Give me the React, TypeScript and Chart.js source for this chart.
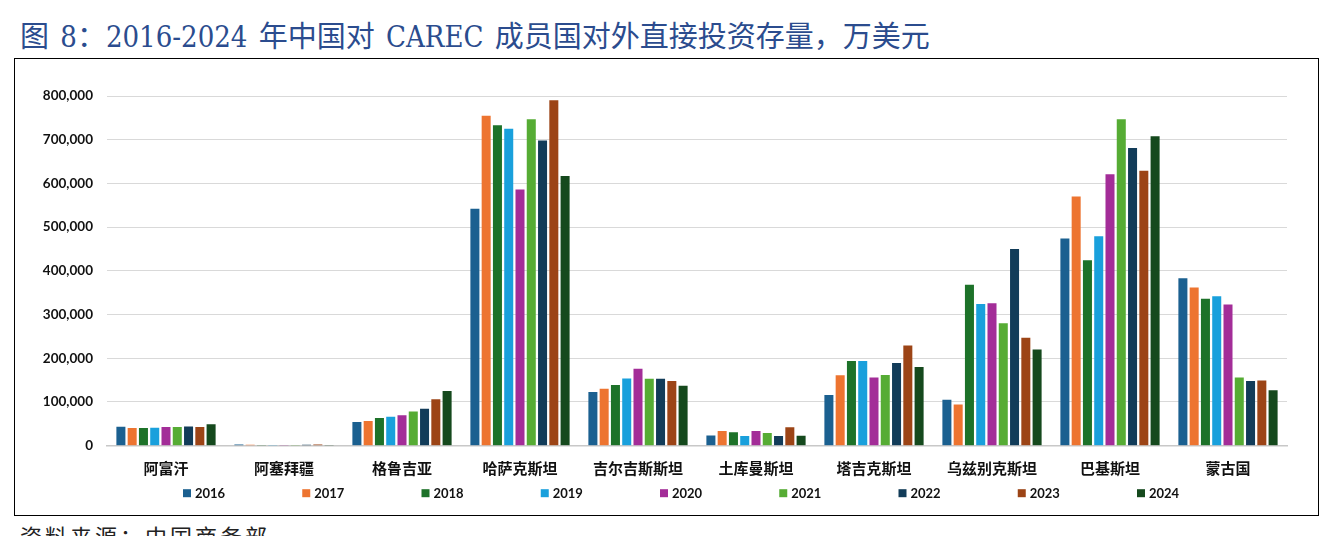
import React, { useEffect, useRef } from "react";
import { Chart, registerables } from "chart.js";

Chart.register(...registerables);

// CAREC member countries
const countries = [
  "阿富汗",
  "阿塞拜疆",
  "格鲁吉亚",
  "哈萨克斯坦",
  "吉尔吉斯斯坦",
  "土库曼斯坦",
  "塔吉克斯坦",
  "乌兹别克斯坦",
  "巴基斯坦",
  "蒙古国",
];

const years = ["2016", "2017", "2018", "2019", "2020", "2021", "2022", "2023", "2024"];

// Outward FDI stock by year, 10k USD, in the same order as `countries`
const v2016 = [43500, 2500, 54200, 542000, 123000, 23600, 116000, 105000, 474000, 383000];
const v2017 = [40400, 2300, 56500, 755000, 130000, 33600, 161000, 94500, 570000, 362000];
const v2018 = [40400, 400, 63300, 733000, 139000, 30500, 194000, 368000, 424000, 336000];
const v2019 = [41200, 300, 66400, 725000, 154000, 22100, 194000, 324000, 479000, 342000];
const v2020 = [42700, 1500, 69400, 586000, 176000, 33600, 156000, 326000, 621000, 323000];
const v2021 = [42700, 1600, 78500, 747000, 153000, 29000, 162000, 280000, 747000, 156000];
const v2022 = [44200, 2200, 84700, 698000, 153000, 22100, 189000, 450000, 681000, 148000];
const v2023 = [42700, 2600, 106000, 790000, 148000, 42000, 229000, 247000, 629000, 149000];
const v2024 = [48800, 500, 125000, 617000, 137000, 22900, 180000, 220000, 708000, 127000];

const seriesValues = [v2016, v2017, v2018, v2019, v2020, v2021, v2022, v2023, v2024];

const yearColors = [
  "#1B6090",
  "#ED7430",
  "#1D7229",
  "#19A0DC",
  "#A32D98",
  "#56AC34",
  "#123C59",
  "#9C4416",
  "#15491D",
];

// y-axis: 0 .. 800,000 in steps of 100,000
const yMin = 0;
const yMax = 800000;
const yStep = 100000;

const LEGEND_OFFSET = 76;
const LEGEND_STEP = 119.25;

const yearLegend = {
  id: "yearLegend",
  afterDraw(chart: any) {
    const { ctx, chartArea } = chart;
    const y = chartArea.bottom + 47.5;
    ctx.save();
    ctx.font = "bold 13px Lato";
    ctx.textBaseline = "middle";
    ctx.textAlign = "left";
    chart.data.datasets.forEach((ds: any, i: number) => {
      const x = chartArea.left + LEGEND_OFFSET + i * LEGEND_STEP;
      ctx.fillStyle = ds.backgroundColor;
      ctx.fillRect(x, y - 4, 8, 8);
      ctx.fillStyle = "#111111";
      ctx.fillText(ds.label, x + 12, y + 0.5);
    });
    ctx.restore();
  },
};

function FdiChart() {
  const canvasRef = useRef<HTMLCanvasElement | null>(null);

  useEffect(() => {
    if (!canvasRef.current) return;
    const chart = new Chart(canvasRef.current, {
      type: "bar",
      data: {
        labels: countries,
        datasets: years.map((year, i) => ({
          label: year,
          data: seriesValues[i],
          backgroundColor: yearColors[i],
          borderWidth: 0,
          categoryPercentage: 0.86,
          barPercentage: 0.8,
        })),
      },
      options: {
        animation: false,
        responsive: false,
        maintainAspectRatio: false,
        events: [],
        layout: { padding: { left: 0, right: 31, top: 37, bottom: 0 } },
        plugins: {
          legend: { display: false },
          tooltip: { enabled: false },
          title: { display: false },
        },
        scales: {
          x: {
            grid: { display: false, drawTicks: false },
            border: { display: true, color: "#C8C8C8", width: 1.5 },
            ticks: {
              color: "#111111",
              font: { family: '"Noto Sans CJK SC"', size: 15, weight: "bold" },
              padding: 14,
              maxRotation: 0,
              autoSkip: false,
            },
            afterFit: (scale: any) => {
              scale.height = 69.3;
            },
          },
          y: {
            min: yMin,
            max: yMax,
            grid: { color: "#D9D9D9", lineWidth: 1, drawTicks: false },
            border: { display: false },
            ticks: {
              stepSize: yStep,
              color: "#111111",
              font: { family: "Lato", size: 13.5, weight: "bold" },
              padding: 14,
              callback: (v: any) => Number(v).toLocaleString("en-US"),
            },
            afterFit: (scale: any) => {
              scale.width = 92;
            },
          },
        },
      },
      plugins: [yearLegend],
    });
    return () => chart.destroy();
  }, []);

  return <canvas ref={canvasRef} width={1303} height={456} style={{ display: "block" }} />;
}

export default function App() {
  return (
    <div
      style={{
        position: "fixed",
        left: 0,
        top: 0,
        width: 1327,
        height: 536,
        background: "#ffffff",
        overflow: "hidden",
      }}
    >
      <div
        style={{
          position: "absolute",
          left: 20,
          top: 23,
          fontFamily: '"DejaVu Serif Condensed", "Noto Sans CJK SC", serif',
          fontSize: 29,
          fontWeight: 400,
          lineHeight: "29px",
          wordSpacing: 3,
          color: "#2B4C8E",
          whiteSpace: "nowrap",
        }}
      >
        图 8：2016-2024 年中国对 CAREC 成员国对外直接投资存量，万美元
      </div>
      <div
        style={{
          position: "absolute",
          left: 14,
          top: 58,
          width: 1303,
          height: 456,
          border: "1px solid #000000",
        }}
      >
        <FdiChart />
      </div>
      <div
        style={{
          position: "absolute",
          left: 20,
          top: 524,
          fontFamily: '"Noto Sans CJK SC", sans-serif',
          fontSize: 22,
          lineHeight: "22px",
          letterSpacing: 3,
          color: "#222222",
          whiteSpace: "nowrap",
        }}
      >
        资料来源：中国商务部
      </div>
    </div>
  );
}
